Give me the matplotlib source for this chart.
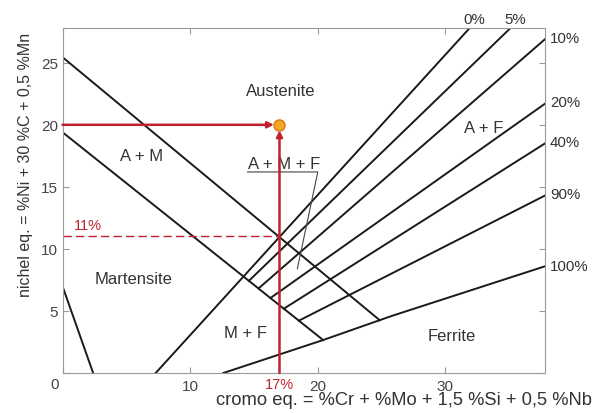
import numpy as np
import matplotlib.pyplot as plt

plt.rcParams['font.family'] = ['Liberation Sans', 'DejaVu Sans']

# diagram limits (chromium eq. / nickel eq.)
x_max, y_max = 37.8, 27.8

# austenite/martensite boundaries: value at Cr eq. = 0 and slope
am_upper = (25.45, -0.853)
am_lower = (19.4, -0.82)

# martensite limit at low chromium
mart_x = [0.0, 2.4]
mart_y = [7.0, 0.0]

# 0 % ferrite line
zero_x = [7.3, 31.9]
zero_y = [0.0, 27.8]

# ferrite iso-lines: end point and slope
ferrite_labels = ['5%', '10%', '20%', '40%', '90%']
ferrite_end_x = [35.1, 37.8, 37.8, 37.8, 37.8]
ferrite_end_y = [27.8, 26.9, 21.7, 18.5, 14.3]
ferrite_slope = [0.994, 0.895, 0.728, 0.651, 0.523]

# 100 % ferrite line
full_x = [12.6, 20.4, 25.8, 37.8]
full_y = [0.0, 2.65, 4.6, 8.6]

# field names and where they sit
field_names = ['Austenite', 'A + M', 'A + F', 'Martensite', 'M + F', 'Ferrite']
field_x = [17.1, 6.2, 33.0, 5.6, 14.3, 30.5]
field_y = [22.8, 17.5, 19.8, 7.65, 3.3, 3.0]

# steel composition
cr_eq = 17
ni_eq = 20
ni_cross = 11

fig = plt.figure(figsize=(5.94, 4.14), dpi=100)
ax = fig.add_axes([62.5 / 594, 40 / 414, 482.5 / 594, 345 / 414])
ax.set_xlim(0, x_max)
ax.set_ylim(0, y_max)

black = '#1a1a1a'
red = '#c0222d'
grey_txt = '#333333'
lw = 1.4


def hit_full(a, b):
    # where y = a + b*x meets the 100 % ferrite polyline
    for i in range(len(full_x) - 1):
        m = (full_y[i + 1] - full_y[i]) / (full_x[i + 1] - full_x[i])
        c = full_y[i] - m * full_x[i]
        x = (c - a) / (b - m)
        if full_x[i] <= x <= full_x[i + 1]:
            return x, a + b * x
    return None


for a, b in (am_upper, am_lower):
    xe, ye = hit_full(a, b)
    ax.plot([0, xe], [a, ye], color=black, lw=lw)

ax.plot(mart_x, mart_y, color=black, lw=lw)
ax.plot(zero_x, zero_y, color=black, lw=lw)
ax.plot(full_x, full_y, color=black, lw=lw)

a2, b2 = am_lower
for xe, ye, s in zip(ferrite_end_x, ferrite_end_y, ferrite_slope):
    xs = (ye - s * xe - a2) / (b2 - s)
    ax.plot([xs, xe], [a2 + b2 * xs, ye], color=black, lw=lw)

# line labels outside the frame
txt = dict(fontsize=10.8, color=grey_txt, annotation_clip=False)
ax.annotate('0%', (zero_x[1], zero_y[1]), xytext=(3.5, 6.5),
            textcoords='offset points', ha='center', va='center', **txt)
for lab, xe, ye in zip(ferrite_labels, ferrite_end_x, ferrite_end_y):
    if ye >= y_max:
        ax.annotate(lab, (xe, ye), xytext=(3, 6.5), textcoords='offset points',
                    ha='center', va='center', **txt)
    else:
        ax.annotate(lab, (xe, ye), xytext=(3.6, 1), textcoords='offset points',
                    ha='left', va='center', **txt)
ax.annotate('100%', (full_x[-1], full_y[-1]), xytext=(3.6, 0),
            textcoords='offset points', ha='left', va='center', **txt)

for name, fx, fy in zip(field_names, field_x, field_y):
    ax.text(fx, fy, name, fontsize=12, color=grey_txt, ha='center', va='center')

ax.text(17.4, 16.85, 'A + M + F', fontsize=12, color=grey_txt,
        ha='center', va='center')
ax.plot([14.5, 20.0, 18.4], [16.2, 16.2, 8.4], color='#444444', lw=0.8)

# composition point
ax.plot([0, cr_eq], [ni_cross, ni_cross], color=red, lw=1.0, ls=(0, (6, 3)))
arrow = dict(arrowstyle='-|>', color=red, lw=1.8, mutation_scale=9,
             shrinkA=0, shrinkB=4)
ax.annotate('', (cr_eq, ni_eq), xytext=(0, ni_eq), arrowprops=arrow)
ax.annotate('', (cr_eq, ni_eq), xytext=(cr_eq, 0), arrowprops=arrow)
ax.plot(cr_eq, ni_eq, 'o', ms=8, color='#f5a623', mec='#d9741c', mew=1.0,
        zorder=5)

ax.text(0.9, ni_cross + 0.9, f'{ni_cross}%', fontsize=10.5, color=red,
        ha='left', va='center')
ax.text(cr_eq, -0.9, f'{cr_eq}%', fontsize=10.5, color=red,
        ha='center', va='center', clip_on=False)

# frame and ticks
for sp in ax.spines.values():
    sp.set_color('#9a9a9a')
    sp.set_linewidth(0.8)
ax.set_xticks([0, 10, 20, 30])
ax.set_xticklabels(['', '10', '20', '30'])
ax.set_yticks([0, 5, 10, 15, 20, 25])
ax.set_yticklabels(['', '5', '10', '15', '20', '25'])
ax.tick_params(direction='in', length=4, width=0.8, color='#9a9a9a',
               labelcolor='#444444', labelsize=11, top=True, right=True)
ax.tick_params(axis='x', pad=4)
ax.tick_params(axis='y', pad=3)
ax.text(-0.65, -0.9, '0', fontsize=11, color='#444444', ha='center',
        va='center', clip_on=False)

fig.text(592 / 594, 1 - 401 / 414,
         'cromo eq. = %Cr + %Mo + 1,5 %Si + 0,5 %Nb',
         fontsize=13.2, color=grey_txt, ha='right', va='center')
fig.text(26 / 594, 1 - 164.5 / 414,
         'nichel eq. = %Ni + 30 %C + 0,5 %Mn',
         fontsize=11.5, color=grey_txt, ha='center', va='center', rotation=90)

fig.savefig('out.png', dpi=100)
